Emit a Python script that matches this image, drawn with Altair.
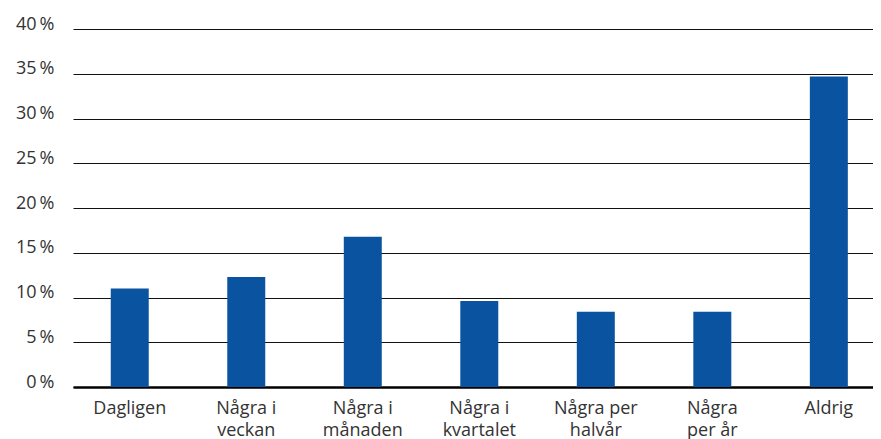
import altair as alt
import pandas as pd

categories = ["Dagligen", "Några i\nveckan", "Några i\nmånaden", "Några i\nkvartalet",
              "Några per\nhalvår", "Några\nper år", "Aldrig"]
values = [11.0, 12.3, 16.8, 9.6, 8.4, 8.4, 34.7]
y_ticks = [0, 5, 10, 15, 20, 25, 30, 35, 40]

df = pd.DataFrame({"kategori": categories, "andel": values})

FONT = "Open Sans"

chart = alt.Chart(df).mark_bar(color="#0A53A0").encode(
    x=alt.X("kategori:N", sort=categories, title=None,
            scale=alt.Scale(paddingInner=0.674, paddingOuter=0.27, align=0.6),
            axis=alt.Axis(labelAngle=0, labelExpr="split(datum.label, '\\n')",
                          labelFont=FONT, labelFontSize=18, labelColor="#333333",
                          labelLineHeight=22, labelPadding=12, ticks=False,
                          domainColor="#000000", domainWidth=2.5, grid=False)),
    y=alt.Y("andel:Q", title=None,
            scale=alt.Scale(domain=[0, 40], nice=False),
            axis=alt.Axis(values=y_ticks, labelExpr="datum.value + '\u2009%'",
                          labelFont=FONT, labelFontSize=18, labelColor="#333333",
                          labelBaseline="alphabetic", labelPadding=19, ticks=False,
                          domain=False, grid=True, gridColor="#111111", gridWidth=1)),
).properties(
    width=800, height=358,
    autosize=alt.AutoSizeParams(type="none"),
    padding={"left": 65, "top": 21, "right": 0, "bottom": 60},
).configure_view(stroke=None)

chart.save("out.html", embed_options={"renderer": "svg", "actions": False})
